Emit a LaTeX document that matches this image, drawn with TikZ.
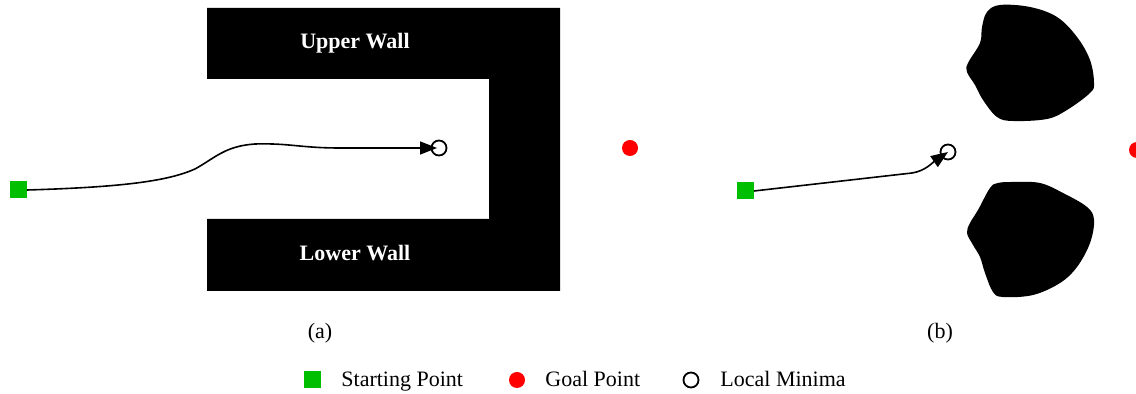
\documentclass[tikz,border=0pt]{standalone}
\usepackage{fontspec}
\setmainfont{Liberation Serif}
\usepackage{tikz}
\usetikzlibrary{arrows.meta,shapes}
\definecolor{startgreen}{RGB}{0,190,0}
\definecolor{goalred}{RGB}{255,0,0}

\begin{document}
\begin{tikzpicture}[x=0.5pt, y=-0.5pt, font=\fontsize{11}{13}\selectfont, >={Triangle[width=6.5pt,length=8.5pt]}, start/.style={rectangle, fill=startgreen, minimum size=8.5pt, inner sep=0pt}, goal/.style={circle, fill=goalred, minimum size=8pt, inner sep=0pt}, minima/.style={circle, draw, line width=0.9pt, minimum size=7.5pt, inner sep=0pt}, walltext/.style={text=white, font=\fontsize{11}{13}\selectfont\bfseries}, route/.style={->, line width=0.8pt}, keytext/.style={anchor=base west, inner sep=0pt}]
\useasboundingbox (0,0) rectangle (1136,394);
% (a) U-shaped wall
\fill (207,8) -- (560,8) -- (560,291) -- (207,291) -- (207,219) -- (489,219) -- (489,79) -- (207,79) -- cycle;
\draw (355,43)node[walltext](uw){Upper Wall};
\draw (355,253)node[walltext](lw){Lower Wall};
\draw (18,190)node[start](s1){};
\draw (439,148)node[minima](m1){};
\draw (630,148)node[goal](g1){};
\draw[route] (s1.east) .. controls (130,187) and (170,180) .. (195,169) .. controls (215,158) and (225,146) .. (255,144) .. controls (290,143) and (300,148) .. (340,148) -- ([xshift=-1pt]m1.center);
\draw (320,333)node(la){(a)};
% (b) two blobs
\fill plot[smooth cycle, tension=0.6] coordinates {(1000,5) (1030,7) (1057,17) (1077,37) (1090,60) (1094,83) (1090,93) (1067,110) (1047,119) (1013,121) (997,117) (983,100) (975,85) (967,72) (968,63) (980,43) (982,27) (987,12)};
\fill plot[smooth cycle, tension=0.6] coordinates {(1013,182) (1040,183) (1063,193) (1087,207) (1094,220) (1090,243) (1077,267) (1060,283) (1033,295) (1003,297) (993,292) (985,273) (980,257) (973,245) (967,233) (970,223) (978,210) (990,188) (998,183)};
\draw (745,191)node[start](s2){};
\draw (948,152)node[minima](m2){};
\draw (1137,150)node[goal](g2){};
\draw[route] (s2.east) -- (912,173) .. controls (925,171) and (932,163) .. (m2.center);
\draw (940,333)node(lb){(b)};
% legend
\draw (312,380)node[start](ks){};
\draw (341,387)node[keytext](kst){Starting Point};
\draw (517,380)node[goal](kg){};
\draw (545,387)node[keytext](kgt){Goal Point};
\draw (691,380)node[minima](km){};
\draw (720,387)node[keytext](kmt){Local Minima};
\end{tikzpicture}
\end{document}
